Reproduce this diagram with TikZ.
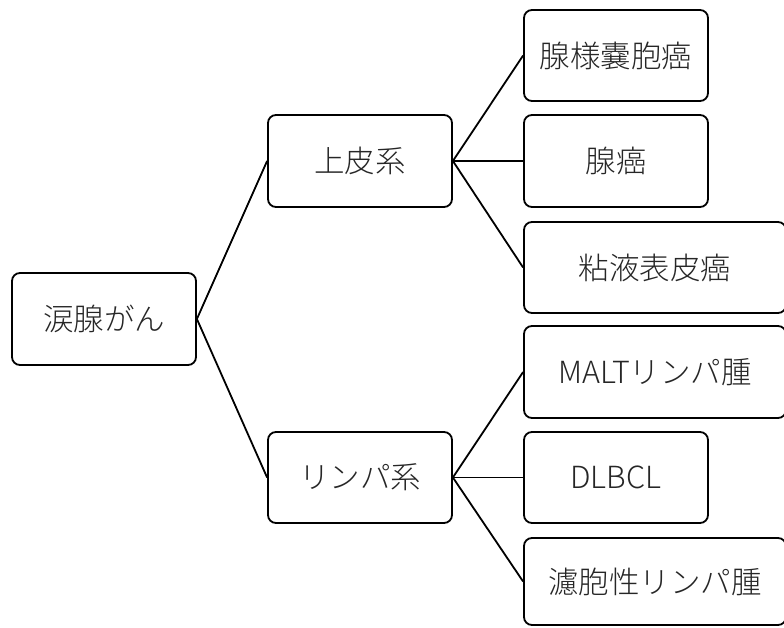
\documentclass[tikz,border=0pt]{standalone}
\usepackage{fontspec}
\newfontfamily\jp{Noto Sans CJK JP}[UprightFont={* Light}]
\tikzset{
  box/.style={draw=black, line width=1.8pt, rounded corners=8pt, fill=white,
    minimum width=184pt, minimum height=91pt, inner sep=0pt,
    font=\jp\fontsize{30.5}{36}\selectfont, text=black!85},
  wide/.style={box, minimum width=262pt},
  conn/.style={draw=black, line width=1.8pt}
}
\begin{document}
\begin{tikzpicture}[x=1pt,y=-1pt]
\useasboundingbox (0,0) rectangle (784,628);
\clip (0,0) rectangle (784,628);
\fill[white] (0,0) rectangle (784,628);
\node[box, minimum height=92pt] (root) at (104,319) {涙腺がん};
\node[box, minimum height=92pt] (epi) at (360,161) {上皮系};
\node[box] (lym) at (360,477.5) {リンパ系};
\node[box] (l1) at (616,55.5) {腺様嚢胞癌};
\node[box, minimum height=92pt] (l2) at (616,161) {腺癌};
\node[wide] (l3) at (655,267.5) {粘液表皮癌};
\node[wide, minimum height=92pt] (l4) at (655,372) {MALTリンパ腫};
\node[box] (l5) at (616,477.5) {DLBCL};
\node[wide, minimum height=87pt] (l6) at (655,581.5) {濾胞性リンパ腫};
\draw[conn] (root.east) -- (epi.west);
\draw[conn] (root.east) -- (lym.west);
\draw[conn] (epi.east) -- (l1.west);
\draw[conn] (epi.east) -- (l2.west);
\draw[conn] (epi.east) -- (l3.west);
\draw[conn] (lym.east) -- (l4.west);
\draw[conn] (lym.east) -- (l5.west);
\draw[conn] (lym.east) -- (l6.west);
\end{tikzpicture}
\end{document}
